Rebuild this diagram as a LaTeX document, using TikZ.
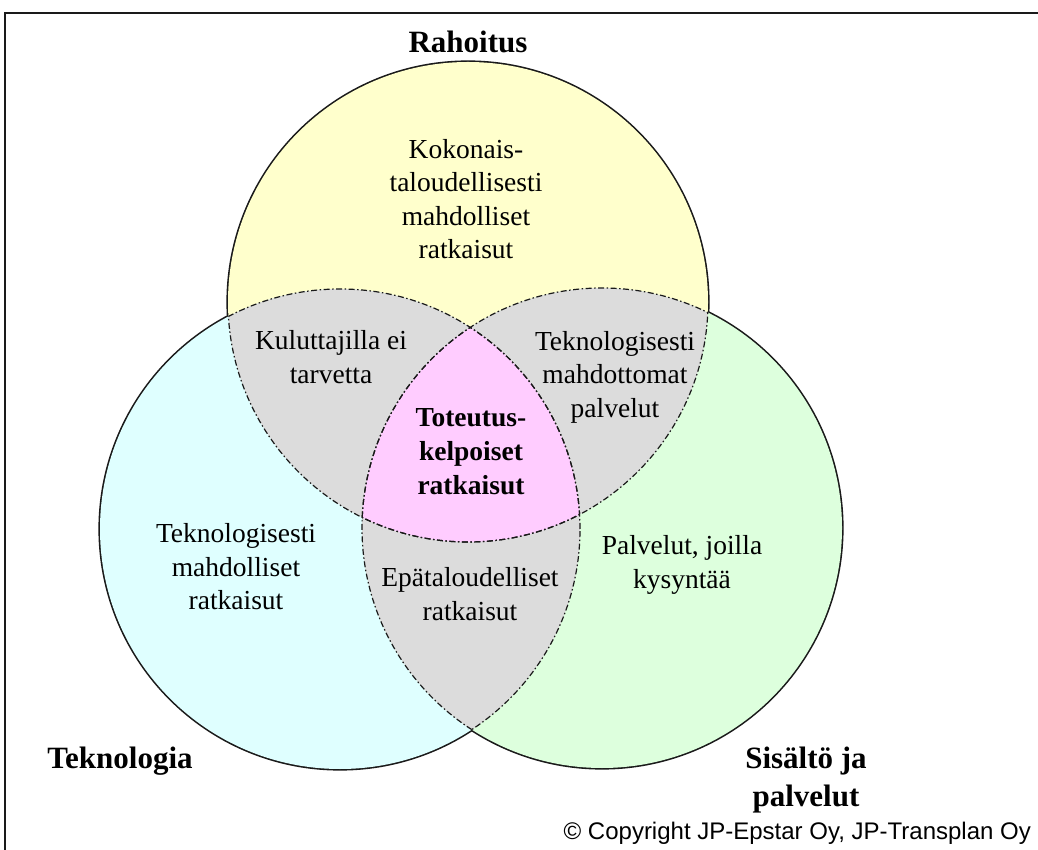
\documentclass[tikz,border=0pt]{standalone}
\usepackage{fontspec}
\setmainfont{Liberation Serif}
\newfontfamily\copyfont{Liberation Sans}
\definecolor{yel}{HTML}{FFFFCC}
\definecolor{cya}{HTML}{DFFFFF}
\definecolor{gre}{HTML}{DDFFDD}
\definecolor{gry}{HTML}{DCDCDC}
\definecolor{pnk}{HTML}{FFCCFF}
\definecolor{ink}{HTML}{1A1A1A}
\begin{document}
\begin{tikzpicture}[x=1pt,y=1pt,
  outer/.style={draw=ink,line width=3.2pt},
  inner/.style={draw=ink,line width=1.2pt,dash pattern=on 6pt off 2.5pt on 1.5pt off 2.5pt},
  body/.style={align=center,inner sep=0pt,font=\fontsize{27.5}{33.5}\selectfont},
  lab/.style={align=center,inner sep=0pt,font=\bfseries\fontsize{31}{38}\selectfont},
  ctr/.style={align=center,inner sep=0pt,font=\bfseries\fontsize{27.5}{34}\selectfont}]
\useasboundingbox (0,0) rectangle (1038,849);
\fill[white] (0,0) rectangle (1038,849);
\def\R{240}
\coordinate (Y) at (468,547);
\coordinate (C) at (340,320);
\coordinate (G) at (602,321);
% frame
\draw[ink,line width=2.2pt] (5,-5) -- (5,836) -- (1045,836);
% outer outlines (inner halves hidden by fills)
\draw[outer] (Y) circle[radius=\R];
\draw[outer] (C) circle[radius=\R];
\draw[outer] (G) circle[radius=\R];
% fills
\fill[yel] (Y) circle[radius=\R];
\fill[cya] (C) circle[radius=\R];
\fill[gre] (G) circle[radius=\R];
\begin{scope}
  \clip (Y) circle[radius=\R];
  \fill[gry] (C) circle[radius=\R];
  \fill[gry] (G) circle[radius=\R];
\end{scope}
\begin{scope}
  \clip (C) circle[radius=\R];
  \fill[gry] (G) circle[radius=\R];
\end{scope}
\begin{scope}
  \clip (Y) circle[radius=\R];
  \clip (C) circle[radius=\R];
  \fill[pnk] (G) circle[radius=\R];
\end{scope}
% inner arcs
\begin{scope}
  \clip (C) circle[radius=\R];
  \draw[inner] (Y) circle[radius=\R];
  \draw[inner] (G) circle[radius=\R];
\end{scope}
\begin{scope}
  \clip (Y) circle[radius=\R];
  \draw[inner] (C) circle[radius=\R];
  \draw[inner] (G) circle[radius=\R];
\end{scope}
\begin{scope}
  \clip (G) circle[radius=\R];
  \draw[inner] (Y) circle[radius=\R];
  \draw[inner] (C) circle[radius=\R];
\end{scope}
% texts
\node[lab] (rah) at (468,807) {Rahoitus};
\node[body] (kok) at (466,650) {Kokonais-\\taloudellisesti\\mahdolliset\\ratkaisut};
\node[body] (kul) at (331,492) {Kuluttajilla ei\\tarvetta};
\node[body] (tmh) at (615,472) {Teknologisesti\\mahdottomat\\palvelut};
\node[ctr] (tot) at (471,397) {Toteutus-\\kelpoiset\\ratkaisut};
\node[body] (tml) at (236,282) {Teknologisesti\\mahdolliset\\ratkaisut};
\node[body] (epa) at (470,255) {Epätaloudelliset\\ratkaisut};
\node[body] (pal) at (682,284) {Palvelut, joilla\\kysyntää};
\node[lab] (tek) at (120,88) {Teknologia};
\node[lab] (sis) at (806,69) {Sisältö ja\\palvelut};
\node[anchor=east,inner sep=0pt,font=\copyfont\fontsize{24}{26}\selectfont] (cop) at (1031,16) {© Copyright JP-Epstar Oy, JP-Transplan Oy};
\end{tikzpicture}
\end{document}
